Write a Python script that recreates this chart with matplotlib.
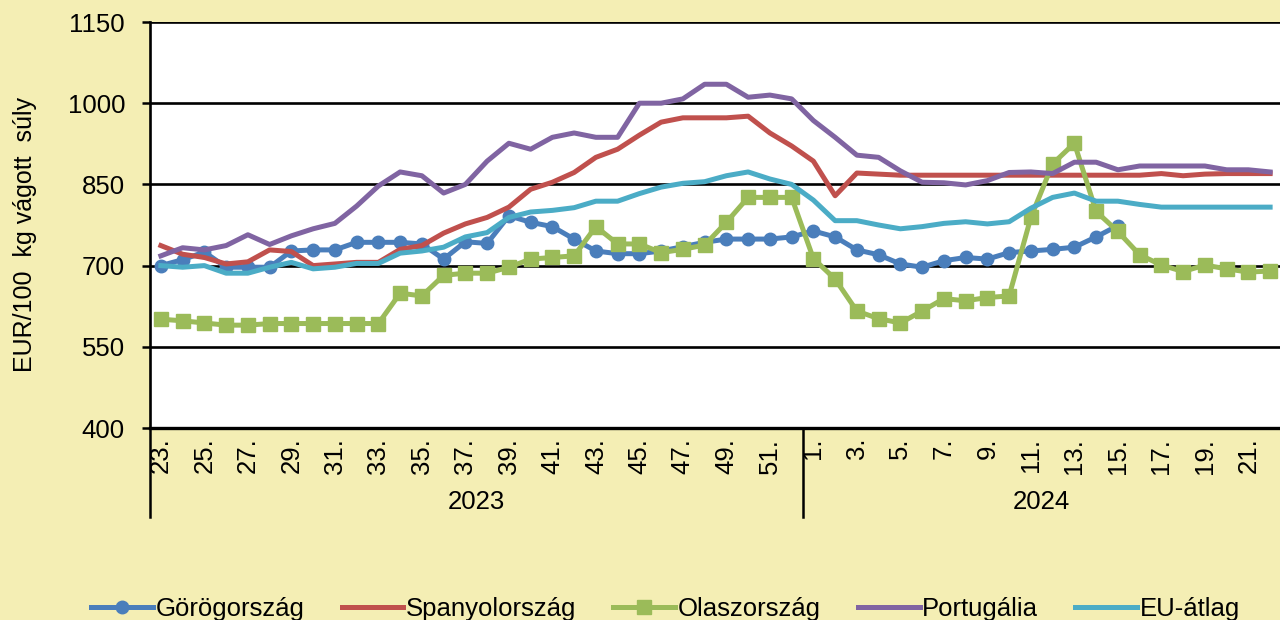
import numpy as np
import matplotlib
matplotlib.use("Agg")
import matplotlib.pyplot as plt
from matplotlib.lines import Line2D

plt.rcParams.update({
    "font.family": ["Liberation Sans", "DejaVu Sans"],
    "font.size": 18.5,
})

# ── Data: weekly prices, EUR/100 kg carcass weight ─────────────────────────
weeks_2023 = list(range(23, 53))
weeks_2024 = list(range(1, 23))

greece = [700, 711, 725, 697, 697, 697, 727, 729, 729, 743,
          743, 743, 740, 712, 744, 741, 792, 780, 772, 749,
          727, 722, 722, 727, 735, 743, 749, 749, 749, 753,
          764, 753, 729, 720, 703, 697, 709, 715, 712, 724,
          727, 730, 734, 753, 774] + [np.nan] * 7
spain = [737, 721, 715, 703, 707, 729, 726, 700, 703, 706,
         706, 730, 737, 760, 777, 789, 808, 841, 854, 872,
         900, 915, 941, 965, 973, 973, 973, 976, 945, 921,
         893, 829, 871, 869, 867, 867, 867, 867, 867, 867,
         867, 867, 867, 867, 867, 867, 870, 866, 869, 870,
         870, 870]
italy = [601, 598, 594, 590, 590, 593, 593, 593, 593, 593,
         593, 649, 644, 682, 686, 686, 697, 712, 715, 718,
         772, 740, 740, 724, 730, 738, 780, 826, 826, 826,
         713, 675, 616, 602, 594, 616, 639, 635, 641, 644,
         789, 888, 926, 800, 763, 720, 701, 689, 701, 694,
         688, 690]
portugal = [718, 733, 729, 737, 757, 739, 755, 768, 778, 810,
            847, 873, 866, 834, 850, 893, 926, 915, 937, 945,
            937, 937, 1000, 1000, 1008, 1035, 1035, 1011, 1015, 1008,
            968, 937, 904, 900, 875, 854, 853, 849, 857, 872,
            873, 870, 891, 891, 877, 884, 884, 884, 884, 877,
            877, 873]
eu_avg = [700, 697, 700, 686, 686, 697, 706, 694, 697, 704,
          704, 723, 727, 734, 753, 761, 789, 799, 802, 807,
          819, 819, 833, 845, 852, 855, 866, 873, 860, 850,
          821, 783, 783, 775, 768, 772, 778, 781, 777, 781,
          806, 826, 834, 819, 819, 813, 808, 808, 808, 808,
          808, 808]

years = ["2023", "2024"]
y_ticks = [400, 550, 700, 850, 1000, 1150]

C_GR = "#4A7EBB"
C_ES = "#C0504D"
C_IT = "#9BBB59"
C_PT = "#8064A2"
C_EU = "#4BACC6"
BG = "#F4EEB4"

weeks = weeks_2023 + weeks_2024
x = np.arange(len(weeks))
n23 = len(weeks_2023)

fig = plt.figure(figsize=(12.8, 6.2), dpi=100, facecolor=BG)
ax = fig.add_axes([150 / 1280, 192 / 620, 1131 / 1280, 406 / 620])
ax.set_facecolor("white")

lw = 3.6
ax.plot(x, greece, color=C_GR, lw=lw, marker="o", ms=9, label="Görögország")
ax.plot(x, spain, color=C_ES, lw=lw, label="Spanyolország")
ax.plot(x, italy, color=C_IT, lw=lw, marker="s", ms=9.5, label="Olaszország")
ax.plot(x, portugal, color=C_PT, lw=lw, label="Portugália")
ax.plot(x, eu_avg, color=C_EU, lw=lw, label="EU-átlag")

ax.set_xlim(-0.5, len(weeks) - 0.5)
ax.set_ylim(400, 1150)
ax.set_yticks(y_ticks)
ax.grid(axis="y", color="black", lw=1.9)
ax.set_axisbelow(True)
for side in ["top", "right"]:
    ax.spines[side].set_visible(False)
ax.spines["left"].set_linewidth(1.9)
ax.spines["bottom"].set_linewidth(2.4)
ax.tick_params(axis="y", length=6, width=1.8, pad=12)

# week labels on every second category, rotated
ax.set_xticks(x[::2])
ax.set_xticklabels([f"{w}." for w in weeks[::2]], rotation=90, va="top", ha="center")
ax.tick_params(axis="x", length=0, pad=7)

# year group separators and labels under the week labels
trans = ax.get_xaxis_transform()
for xs in [-0.5, n23 - 0.5, len(weeks) - 0.5]:
    ax.add_line(Line2D([xs, xs], [0, -0.22], transform=trans, color="black",
                       lw=1.8, clip_on=False))
ax.text((n23 - 1) / 2, -0.182, years[0], transform=trans, ha="center", va="center")
ax.text((n23 + len(weeks) - 1) / 2, -0.182, years[1], transform=trans,
        ha="center", va="center")

fig.text(25 / 1280, 1 - 235 / 620, "EUR/100  kg vágott  súly", rotation=90,
         ha="center", va="center", fontsize=18)

fig.legend(loc="center", bbox_to_anchor=(0.52, 11 / 620), ncol=5, frameon=False,
           handlelength=2.4, handletextpad=0.1, columnspacing=1.45, numpoints=1,
           fontsize=18.5)

fig.savefig("out.png", dpi=100, facecolor=BG)
